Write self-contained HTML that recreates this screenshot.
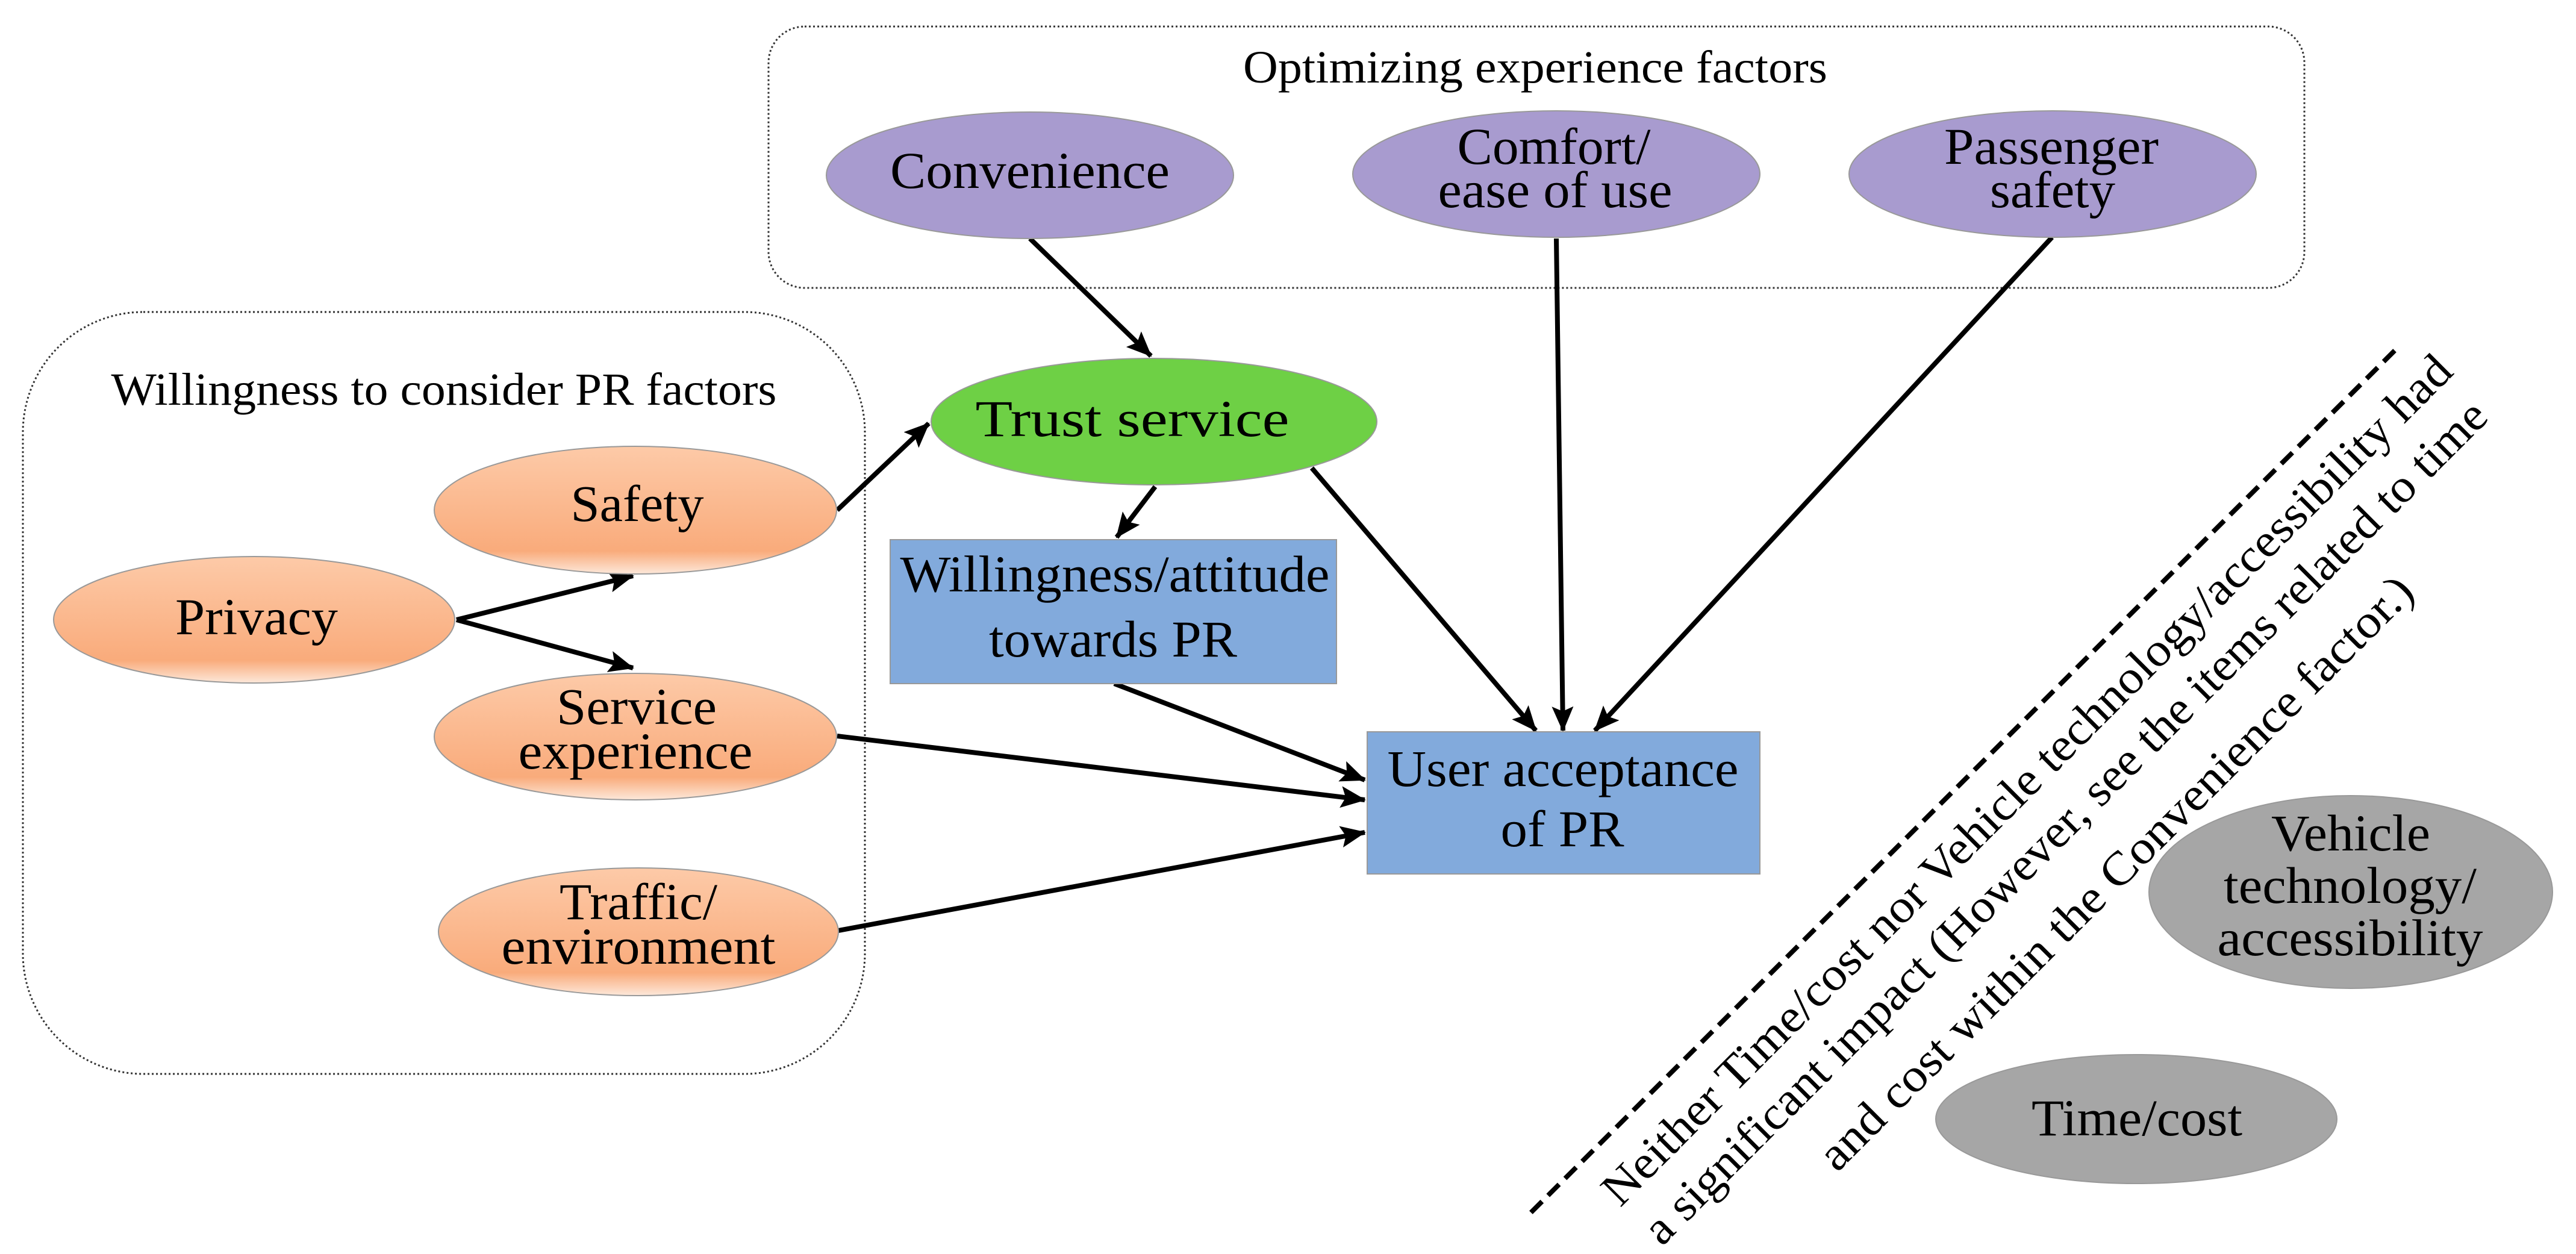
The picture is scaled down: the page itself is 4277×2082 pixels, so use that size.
<!DOCTYPE html>
<html><head><meta charset="utf-8"><style>html,body{margin:0;padding:0;background:#fff}svg{display:block}</style></head>
<body>
<svg width="4277" height="2082" viewBox="0 0 4277 2082" xmlns="http://www.w3.org/2000/svg" font-family="'Liberation Serif', serif">
<defs>
<linearGradient id="og" x1="0" y1="0" x2="0" y2="1">
<stop offset="0" stop-color="#fdcaa8"/><stop offset="0.82" stop-color="#f9ab7b"/><stop offset="1" stop-color="#fde8da"/>
</linearGradient>
<marker id="ah" markerUnits="userSpaceOnUse" markerWidth="44" markerHeight="36" refX="40" refY="18" orient="auto">
<path d="M0,0 L42,18 L0,36 L8,18 Z" fill="#000"/>
</marker>
</defs>
<rect x="1276" y="44" width="2550" height="434" rx="60" fill="none" stroke="#333" stroke-width="3" stroke-dasharray="3,4"/>
<rect x="38" y="518" width="1398" height="1265" rx="200" fill="none" stroke="#333" stroke-width="3" stroke-dasharray="3,4"/>
<g fill="#000" font-size="76" text-anchor="middle">
<text x="2549" y="137" textLength="970" lengthAdjust="spacingAndGlyphs">Optimizing experience factors</text>
<text x="737" y="672" textLength="1105" lengthAdjust="spacingAndGlyphs">Willingness to consider PR factors</text>
</g>
<line x1="3976" y1="582" x2="2539" y2="2016" stroke="#000" stroke-width="8" stroke-dasharray="26,14"/>
<g stroke="#000" stroke-width="8" fill="none" marker-end="url(#ah)">
<line x1="1710" y1="396" x2="1911" y2="591"/>
<line x1="1390" y1="847" x2="1542" y2="703"/>
<line x1="758" y1="1029" x2="1051" y2="956"/>
<line x1="758" y1="1029" x2="1051" y2="1109"/>
<line x1="1918" y1="808" x2="1854" y2="892"/>
<line x1="1850" y1="1135" x2="2266" y2="1295"/>
<line x1="1390" y1="1222" x2="2266" y2="1328"/>
<line x1="1392" y1="1545" x2="2266" y2="1382"/>
<line x1="2178" y1="777" x2="2550" y2="1213"/>
<line x1="2584" y1="396" x2="2595" y2="1213"/>
<line x1="3407" y1="394" x2="2648" y2="1213"/>
</g>
<g stroke="#999" stroke-width="2">
<ellipse cx="1710" cy="291" rx="338" ry="105" fill="#a89bcf"/>
<ellipse cx="2584" cy="289" rx="338" ry="105" fill="#a89bcf"/>
<ellipse cx="3408" cy="289" rx="338" ry="105" fill="#a89bcf"/>
<ellipse cx="1916" cy="700" rx="370" ry="105" fill="#6ed045"/>
<ellipse cx="1055" cy="847" rx="334" ry="106" fill="url(#og)"/>
<ellipse cx="422" cy="1029" rx="333" ry="105" fill="url(#og)"/>
<ellipse cx="1055" cy="1223" rx="334" ry="105" fill="url(#og)"/>
<ellipse cx="1060" cy="1547" rx="332" ry="106" fill="url(#og)"/>
<ellipse cx="3903" cy="1481" rx="335" ry="160" fill="#a6a6a6"/>
<ellipse cx="3547" cy="1858" rx="333" ry="107" fill="#a6a6a6"/>
<rect x="1478" y="896" width="741" height="239" fill="#82aadc"/>
<rect x="2270" y="1215" width="652" height="236" fill="#82aadc"/>
</g>
<g fill="#000" font-size="86" text-anchor="middle">
<text x="1710" y="312" textLength="464" lengthAdjust="spacingAndGlyphs">Convenience</text>
<text x="2580" y="272" textLength="321" lengthAdjust="spacingAndGlyphs">Comfort/</text>
<text x="2582" y="344" textLength="389" lengthAdjust="spacingAndGlyphs">ease of use</text>
<text x="3406" y="272" textLength="356" lengthAdjust="spacingAndGlyphs">Passenger</text>
<text x="3408" y="344" textLength="208" lengthAdjust="spacingAndGlyphs">safety</text>
<text x="1880" y="724" textLength="521" lengthAdjust="spacingAndGlyphs">Trust service</text>
<text x="1058" y="865" textLength="221" lengthAdjust="spacingAndGlyphs">Safety</text>
<text x="426" y="1053" textLength="270" lengthAdjust="spacingAndGlyphs">Privacy</text>
<text x="1057" y="1202" textLength="266" lengthAdjust="spacingAndGlyphs">Service</text>
<text x="1055" y="1276" textLength="389" lengthAdjust="spacingAndGlyphs">experience</text>
<text x="1060" y="1526" textLength="262" lengthAdjust="spacingAndGlyphs">Traffic/</text>
<text x="1060" y="1600" textLength="455" lengthAdjust="spacingAndGlyphs">environment</text>
<text x="1851" y="982" textLength="713" lengthAdjust="spacingAndGlyphs">Willingness/attitude</text>
<text x="1848" y="1090" textLength="412" lengthAdjust="spacingAndGlyphs">towards PR</text>
<text x="2595" y="1305" textLength="583" lengthAdjust="spacingAndGlyphs">User acceptance</text>
<text x="2594" y="1405" textLength="205" lengthAdjust="spacingAndGlyphs">of PR</text>
<text x="3903" y="1412" textLength="264" lengthAdjust="spacingAndGlyphs">Vehicle</text>
<text x="3902" y="1499" textLength="420" lengthAdjust="spacingAndGlyphs">technology/</text>
<text x="3902" y="1586" textLength="441" lengthAdjust="spacingAndGlyphs">accessibility</text>
<text x="3548" y="1885" textLength="350" lengthAdjust="spacingAndGlyphs">Time/cost</text>
</g>
<g fill="#000" font-size="78" text-anchor="middle">
<text transform="translate(3366,1296) rotate(-45)" y="24" textLength="1960" lengthAdjust="spacingAndGlyphs">Neither Time/cost nor Vehicle technology/accessibility had</text>
<text transform="translate(3430,1366) rotate(-45)" y="24" textLength="1945" lengthAdjust="spacingAndGlyphs">a significant impact (However, see the items related to time</text>
<text transform="translate(3514,1450) rotate(-45)" y="24" textLength="1360" lengthAdjust="spacingAndGlyphs">and cost within the Convenience factor.)</text>
</g>
</svg>
</body></html>
